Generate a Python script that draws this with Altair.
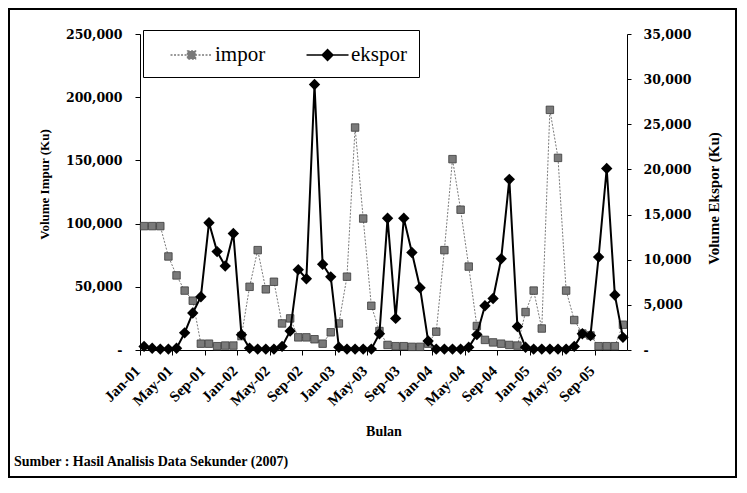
import json
import altair as alt
import pandas as pd

# ---------------- data ----------------
month_names = ["Jan", "Feb", "Mar", "Apr", "May", "Jun", "Jul", "Aug", "Sep", "Oct", "Nov", "Dec"]
years = ["01", "02", "03", "04", "05"]
months = [f"{m}-{y}" for y in years for m in month_names]

impor = [98000, 98000, 98000, 74000, 59000, 47000, 39000, 5000, 5000, 3000, 3500, 3500,
         11000, 50000, 79000, 48000, 54000, 21000, 25000, 10000, 10000, 8500, 5000, 14000,
         21000, 58000, 176000, 104000, 35000, 15000, 4000, 3000, 3000, 2500, 2500, 5000,
         14500, 79000, 151000, 111000, 66000, 19000, 8000, 6000, 5000, 4000, 3500, 30000,
         47000, 17000, 190000, 152000, 47000, 23700, 13000, 11500, 3000, 3000, 3000, 20000]

ekspor = [400, 200, 100, 100, 200, 1900, 4100, 5900, 14100, 10900, 9300, 12900,
          1700, 200, 100, 100, 100, 400, 2100, 8900, 7900, 29400, 9500, 8100,
          300, 100, 100, 100, 100, 1800, 14600, 3500, 14600, 10800, 6900, 1000,
          100, 100, 100, 100, 300, 1700, 4900, 5700, 10100, 18900, 2600, 300,
          100, 100, 100, 100, 100, 400, 1800, 1600, 10300, 20100, 6100, 1400]

series_names = ["impor", "ekspor"]
left_ticks = [0, 50000, 100000, 150000, 200000, 250000]
right_ticks = [0, 5000, 10000, 15000, 20000, 25000, 30000, 35000]
caption = "Sumber : Hasil Analisis Data Sekunder (2007)"

df = pd.DataFrame({"idx": list(range(len(months))), "bulan": months,
                   "impor": impor, "ekspor": ekspor})

SERIF = "Liberation Serif"
NUMF = "DejaVu Serif"

x_ticks = [i - 0.5 for i in range(0, len(months), 4)]
x_label_expr = f"{json.dumps(months)}[round(datum.value + 0.5)] || ''"
y_label_expr = "datum.value == 0 ? '-' : format(datum.value, ',')"

x_enc = alt.X(
    "idx:Q",
    scale=alt.Scale(domain=[-0.5, len(months) - 0.5], nice=False, zero=False),
    axis=alt.Axis(
        values=x_ticks, labelExpr=x_label_expr, labelAngle=-45, labelAlign="right",
        labelBaseline="middle", labelOffset=-3, labelPadding=13, tickSize=5,
        labelFlush=False, labelOverlap=False, labelFont=SERIF, labelFontWeight="bold",
        labelFontSize=15, title="Bulan", titleFont=SERIF, titleFontSize=14,
        titleFontWeight="bold", titleY=81, titleBaseline="middle", grid=False,
    ),
)

y_left = alt.Y(
    "impor:Q",
    scale=alt.Scale(domain=[0, 250000], nice=False),
    axis=alt.Axis(
        orient="left", values=left_ticks, labelExpr=y_label_expr, tickSize=5,
        labelPadding=13, labelFont=NUMF, labelFontWeight="bold", labelFontSize=12.5,
        title="Volume Impur (Ku)", titleFont=SERIF, titleFontSize=13, titleFontWeight="bold",
        titleX=-96, titleY=150, titleAngle=270, titleAlign="center", titleBaseline="middle",
        grid=False,
    ),
)

y_right = alt.Y(
    "ekspor:Q",
    scale=alt.Scale(domain=[0, 35000], nice=False),
    axis=alt.Axis(
        orient="right", values=right_ticks, labelExpr=y_label_expr, tickSize=4,
        labelPadding=12, labelFont=NUMF, labelFontWeight="bold", labelFontSize=12.5,
        title="Volume Ekspor (Ku)", titleFont=SERIF, titleFontSize=15, titleFontWeight="bold",
        titleX=86, titleY=164, titleAngle=270, titleAlign="center", titleBaseline="middle",
        grid=False,
    ),
)

base = alt.Chart(df)

impor_line = base.mark_line(color="#7a7a7a", strokeWidth=1, strokeDash=[2, 1.5]).encode(x=x_enc, y=y_left)
impor_pts = base.mark_point(shape="square", filled=True, size=56, fill="#7a7a7a",
                            stroke="#3a3a3a", strokeWidth=0.8, opacity=1).encode(x=x_enc, y=y_left)
impor_layer = alt.layer(impor_line, impor_pts)

ekspor_line = base.mark_line(color="black", strokeWidth=2).encode(x=x_enc, y=y_right)
ekspor_pts = base.mark_point(shape="diamond", filled=True, size=130, color="black",
                             opacity=1).encode(x=x_enc, y=y_right)
ekspor_layer = alt.layer(ekspor_line, ekspor_pts)

# legend (symbols: a line with a marker in its middle)
sym_impor = "M0.21,0 H3.71 M1.63,-0.33 H2.29 V0.33 H1.63 Z"
sym_ekspor = "M0.21,0 H3.71 M1.96,-0.45 L2.41,0 L1.96,0.45 L1.51,0 Z"
leg = alt.Legend(
    orient="none", legendX=3, legendY=-4, direction="horizontal", columns=2,
    labelFont=SERIF, labelFontSize=21, labelColor="black", labelOffset=34,
    symbolSize=576, symbolStrokeWidth=1.5, padding=12, columnPadding=25,
    strokeColor="black", fillColor="white",
)
legend_df = pd.DataFrame({"series": series_names})
legend_layer = alt.Chart(legend_df).mark_point(filled=True, strokeWidth=1.5, opacity=1).encode(
    shape=alt.Shape("series:N", scale=alt.Scale(domain=series_names, range=[sym_impor, sym_ekspor]),
                    legend=leg, title=None),
    fill=alt.Fill("series:N", scale=alt.Scale(domain=series_names, range=["#7a7a7a", "#000000"]),
                  legend=leg, title=None),
    stroke=alt.Stroke("series:N", scale=alt.Scale(domain=series_names, range=["#7a7a7a", "#000000"]),
                      legend=leg, title=None),
    strokeDash=alt.StrokeDash("series:N", scale=alt.Scale(domain=series_names, range=[[2, 1.5], [10, 0]]),
                              legend=leg, title=None),
).transform_filter("false")

one = pd.DataFrame({"t": [caption]})
frame = alt.Chart(one).mark_rect(fillOpacity=0, stroke="black", strokeWidth=2).encode(
    x=alt.value(-131), x2=alt.value(596), y=alt.value(-25), y2=alt.value(443)
)
caption_layer = alt.Chart(one).mark_text(
    align="left", baseline="middle", font=SERIF, fontSize=14, fontWeight="bold", color="black"
).encode(text="t:N", x=alt.value(-126), y=alt.value(428))

chart = alt.layer(frame, impor_layer, ekspor_layer, legend_layer, caption_layer).resolve_scale(
    y="independent"
).properties(
    width=487, height=316,
    autosize=alt.AutoSizeParams(type="none"),
    padding={"left": 132, "top": 26, "right": 110, "bottom": 128},
    background="white",
).configure_view(stroke="transparent").configure_axis(
    domainColor="black", tickColor="black", labelColor="black", titleColor="black"
)

chart.save("out.html", embed_options={"renderer": "svg", "actions": False})
